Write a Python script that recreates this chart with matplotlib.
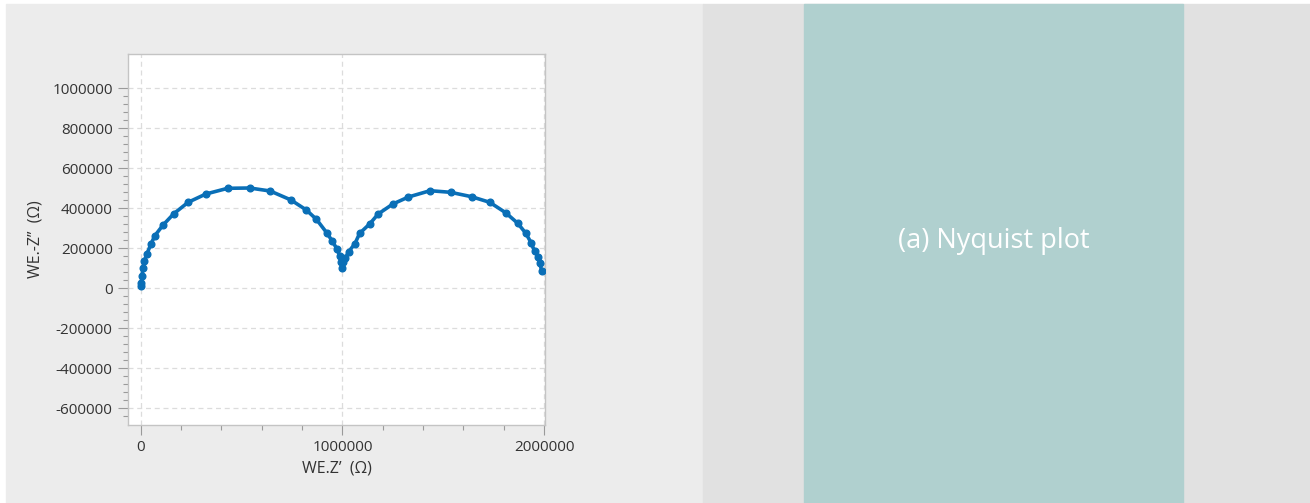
import numpy as np
import matplotlib
matplotlib.use("Agg")
import matplotlib.pyplot as plt
from matplotlib.patches import Rectangle
from matplotlib.ticker import MultipleLocator, FixedLocator

plt.rcParams['font.family'] = ['Open Sans', 'DejaVu Sans']
plt.rcParams['axes.unicode_minus'] = False

# Nyquist data: Z' and -Z'' in ohm
z_real = [0, 3000, 6500, 11500, 18000, 31000, 50000, 70000, 111000, 164000,
          235000, 323000, 431000, 540000, 642000, 745000, 821000, 871000,
          924000, 949000, 973000, 987000, 993000, 1000000,
          1005000, 1015000, 1030000, 1062000, 1085000, 1136000, 1177000,
          1250000, 1327000, 1434000, 1536000, 1640000, 1730000, 1809000,
          1869000, 1909000, 1935000, 1952000, 1969000, 1978000, 1988000]
z_imag_neg = [10000, 25000, 61500, 101500, 135000, 171500, 218000, 261500,
              315000, 371500, 428500, 470000, 498500, 500000, 485000, 440000,
              390000, 343500, 273500, 235000, 195000, 160000, 128500, 100000,
              130000, 150000, 180000, 222000, 273000, 321500, 370000,
              420000, 455000, 486500, 478500, 456500, 428500, 376500,
              323500, 273500, 226500, 185000, 156500, 123500, 85000]

panel_label = "(a) Nyquist plot"

fig = plt.figure(figsize=(13.1, 5.03), dpi=100, facecolor="white")
W, H = 1310, 503

# background panels (behind the axes)
fig.patches.append(Rectangle((6 / W, 0), (703 - 6) / W, (H - 4) / H,
                             transform=fig.transFigure, color="#ececec", zorder=-2))
fig.patches.append(Rectangle((703 / W, 0), (W - 703) / W, (H - 4) / H,
                             transform=fig.transFigure, color="#e1e1e1", zorder=-2))
fig.patches.append(Rectangle((804 / W, 0), (1183 - 804) / W, (H - 4) / H,
                             transform=fig.transFigure, color="#b0d0cf", zorder=-1))
fig.text(994 / W, 1 - 241 / H, panel_label, color="white", fontsize=19.5,
         ha="center", va="center")

ax = fig.add_axes([128 / W, 1 - 425 / H, (545 - 128) / W, (425 - 54) / H])
ax.set_facecolor("white")
ax.plot(z_real, z_imag_neg, color="#0a6fb7", lw=2.6, marker="o", ms=4.8,
        zorder=3)

ax.set_xlim(-63000, 2004000)
ax.set_ylim(-685000, 1170000)
ax.xaxis.set_major_locator(MultipleLocator(1000000))
ax.xaxis.set_minor_locator(MultipleLocator(200000))
ax.yaxis.set_major_locator(MultipleLocator(200000))
ax.yaxis.set_minor_locator(FixedLocator(np.arange(-640000, 1000000, 40000)))

ax.grid(True, which="major", color="#dcdcdc", lw=0.9, ls=(0, (4, 3)))
ax.set_axisbelow(True)

for s in ["left", "bottom", "right", "top"]:
    ax.spines[s].set_color("#c4c4c4")
    ax.spines[s].set_linewidth(1.0)

ax.tick_params(which="major", length=7.5, width=0.8, color="#9a9a9a",
               labelsize=11, labelcolor="#333333", pad=3.5)
ax.tick_params(which="minor", length=3.8, width=0.8, color="#9a9a9a")
ax.ticklabel_format(style="plain", useOffset=False)

ax.set_xlabel("WE.Z’  (Ω)", fontsize=11.5, color="#333333", labelpad=4)
ax.set_ylabel("WE.-Z’’  (Ω)", fontsize=11.5, color="#333333", labelpad=6)

fig.savefig("out.png", dpi=100, facecolor=fig.get_facecolor())
